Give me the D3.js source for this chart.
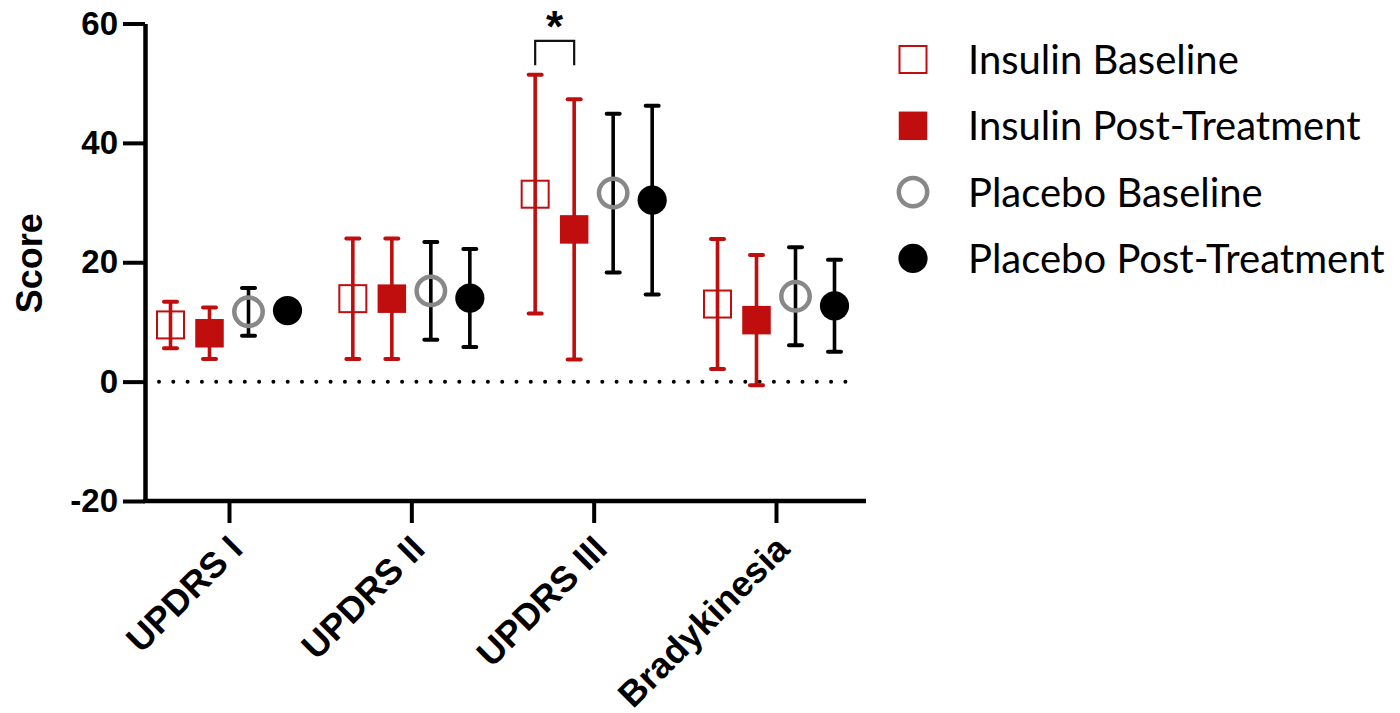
<!DOCTYPE html>
<html>
<head>
<meta charset="utf-8">
<script src="https://cdn.jsdelivr.net/npm/d3@7"></script>
<style>
  body { margin: 0; background: #fff; }
  svg { display: block; }
</style>
</head>
<body>
<div id="chart-area"></div>
<script>
// Data (mean and SD)
const categories = ["UPDRS I", "UPDRS II", "UPDRS III", "Bradykinesia"]
const seriesNames = ["Insulin Baseline", "Insulin Post-Treatment", "Placebo Baseline", "Placebo Post-Treatment"]

const insulinBaselineMean = [9.5, 13.9, 31.4, 13.0]
const insulinBaselineSD = [3.9, 10.1, 20.0, 10.9]
const insulinPostMean = [8.1, 13.9, 25.5, 10.3]
const insulinPostSD = [4.3, 10.1, 21.8, 10.9]
const placeboBaselineMean = [11.7, 15.2, 31.6, 14.3]
const placeboBaselineSD = [4.0, 8.2, 13.3, 8.2]
const placeboPostMean = [11.9, 14.0, 30.4, 12.7]
const placeboPostSD = [1.5, 8.2, 15.8, 7.7]

const yTicks = [-20, 0, 20, 40, 60]

// significance bracket: UPDRS III, insulin baseline vs post
const sigCategory = "UPDRS III"
const sigPair = ["Insulin Baseline", "Insulin Post-Treatment"]
const sigTop = 57.1
const sigBottom = 53.0
const sigLabel = "*"

const WIDTH = 1400
const HEIGHT = 713
const RED = "#c00d0d"
const GREY = "#888888"

const styles = {
  "Insulin Baseline": { shape: "square", fill: "none", stroke: RED, sw: 2, bar: RED },
  "Insulin Post-Treatment": { shape: "square", fill: RED, stroke: "none", sw: 0, bar: RED },
  "Placebo Baseline": { shape: "circle", fill: "none", stroke: GREY, sw: 4.5, bar: "#000" },
  "Placebo Post-Treatment": { shape: "circle", fill: "#000", stroke: "none", sw: 0, bar: "#000" }
}

const seriesData = [
  { name: seriesNames[0], mean: insulinBaselineMean, sd: insulinBaselineSD },
  { name: seriesNames[1], mean: insulinPostMean, sd: insulinPostSD },
  { name: seriesNames[2], mean: placeboBaselineMean, sd: placeboBaselineSD },
  { name: seriesNames[3], mean: placeboPostMean, sd: placeboPostSD }
]

const points = []
seriesData.forEach(s => {
  categories.forEach((c, i) => {
    points.push({ series: s.name, cat: c, mean: s.mean[i], sd: s.sd[i] })
  })
})

const svg = d3.select("#chart-area").append("svg")
  .attr("width", WIDTH)
  .attr("height", HEIGHT)

const y = d3.scaleLinear()
  .domain([-20, 60])
  .range([501, 23.5])

const x = d3.scalePoint()
  .domain(categories)
  .range([229, 776])

const xInner = d3.scalePoint()
  .domain(seriesNames)
  .range([-58.5, 58.5])

const px = d => x(d.cat) + xInner(d.series)

// Y axis
const yAxis = svg.append("g")
  .attr("transform", "translate(145, 0)")
  .call(d3.axisLeft(y).tickValues(yTicks).tickFormat(d => String(d))
    .tickSize(22).tickSizeOuter(0).tickPadding(5))
yAxis.select(".domain").attr("stroke-width", 4.5).attr("stroke", "#000")
yAxis.selectAll(".tick line").attr("stroke-width", 4).attr("stroke", "#000")
yAxis.selectAll(".tick text")
  .attr("font-family", "Liberation Sans, Arial, sans-serif")
  .attr("font-weight", "bold")
  .attr("font-size", "33px")
  .attr("fill", "#000")

// X axis
const xAxis = svg.append("g")
  .attr("transform", `translate(0, ${y(-20)})`)
  .call(d3.axisBottom(x).tickSize(22).tickSizeOuter(0))
xAxis.select(".domain").remove()
xAxis.append("line")
  .attr("x1", 143)
  .attr("x2", 866)
  .attr("stroke", "#000")
  .attr("stroke-width", 4.5)
xAxis.selectAll(".tick line").attr("stroke-width", 4).attr("stroke", "#000")
xAxis.selectAll(".tick text")
  .attr("font-family", "Liberation Sans, Arial, sans-serif")
  .attr("font-weight", "bold")
  .attr("font-size", "36px")
  .attr("fill", "#000")
  .attr("text-anchor", "end")
  .attr("y", 0)
  .attr("dy", 0)
  .attr("transform", "translate(15, 50) rotate(-45)")

// Y label
svg.append("text")
  .attr("transform", `translate(42, ${(y(60) + y(-20)) / 2 + 1}) rotate(-90)`)
  .attr("text-anchor", "middle")
  .attr("font-family", "Liberation Sans, Arial, sans-serif")
  .attr("font-weight", "bold")
  .attr("font-size", "36px")
  .text("Score")

// dotted zero line
svg.append("line")
  .attr("x1", 159)
  .attr("x2", 850)
  .attr("y1", y(0))
  .attr("y2", y(0))
  .attr("stroke", "#000")
  .attr("stroke-width", 4)
  .attr("stroke-linecap", "round")
  .attr("stroke-dasharray", "0 14.3")

// error bars
const bars = svg.append("g").selectAll("g")
  .data(points)
  .enter().append("g")
  .attr("stroke", d => styles[d.series].bar)
  .attr("stroke-width", 3.6)
  .attr("stroke-linecap", "round")

bars.append("line")
  .attr("x1", px).attr("x2", px)
  .attr("y1", d => y(d.mean + d.sd))
  .attr("y2", d => y(d.mean - d.sd))
  .attr("stroke-linecap", "butt")

bars.selectAll(".cap")
  .data(d => [d.mean + d.sd, d.mean - d.sd].map(v => ({ v, d })))
  .enter().append("line")
  .attr("class", "cap")
  .attr("x1", e => px(e.d) - 6.5)
  .attr("x2", e => px(e.d) + 6.5)
  .attr("y1", e => y(e.v))
  .attr("y2", e => y(e.v))
  .attr("stroke-width", 4)

// markers
function drawMarker(sel, name) {
  const st = styles[name]
  if (st.shape === "square") {
    const s = st.fill === "none" ? 27 : 28.5
    sel.append("rect")
      .attr("x", -s / 2).attr("y", -s / 2)
      .attr("width", s).attr("height", s)
      .attr("fill", st.fill)
      .attr("stroke", st.stroke)
      .attr("stroke-width", st.sw)
  } else {
    sel.append("circle")
      .attr("r", st.fill === "none" ? 14.2 : 14.6)
      .attr("fill", st.fill)
      .attr("stroke", st.stroke)
      .attr("stroke-width", st.sw)
  }
}

svg.append("g").selectAll("g")
  .data(points)
  .enter().append("g")
  .attr("transform", d => `translate(${px(d)}, ${y(d.mean)})`)
  .each(function (d) { drawMarker(d3.select(this), d.series) })

// significance bracket
const bx1 = x(sigCategory) + xInner(sigPair[0])
const bx2 = x(sigCategory) + xInner(sigPair[1])
svg.append("path")
  .attr("d", `M${bx1},${y(sigBottom)}V${y(sigTop)}H${bx2}V${y(sigBottom)}`)
  .attr("fill", "none")
  .attr("stroke", "#111")
  .attr("stroke-width", 2.2)
svg.append("text")
  .attr("x", (bx1 + bx2) / 2)
  .attr("y", y(sigTop) + 1)
  .attr("text-anchor", "middle")
  .attr("font-family", "Liberation Sans, Arial, sans-serif")
  .attr("font-weight", "bold")
  .attr("font-size", "44px")
  .text(sigLabel)

// legend
const legend = svg.append("g").selectAll("g")
  .data(seriesNames)
  .enter().append("g")
  .attr("transform", (d, i) => `translate(913, ${59.5 + i * 66.3})`)

legend.each(function (d) { drawMarker(d3.select(this), d) })

legend.append("text")
  .attr("x", 55)
  .attr("dy", "0.36em")
  .attr("font-family", "Lato, sans-serif")
  .attr("font-size", "40px")
  .attr("fill", "#000")
  .text(d => d)
</script>
</body>
</html>
